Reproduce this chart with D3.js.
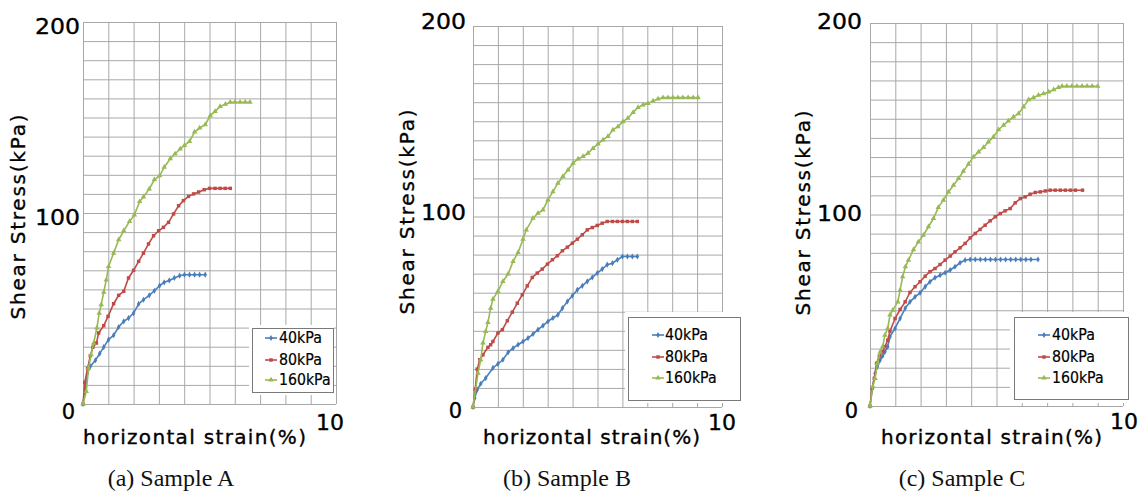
<!DOCTYPE html>
<html lang="en">
<head>
<meta charset="utf-8">
<script src="https://d3js.org/d3.v7.min.js"></script>
<style>
  body { margin: 0; background: #fff; }
  svg { display: block; }
</style>
</head>
<body>
<script>
// values: [horizontal strain %, shear stress kPa]
const seriesNames = ["40kPa", "80kPa", "160kPa"];
const sampleNames = ["(a) Sample A", "(b) Sample B", "(c) Sample C"];
const yTickLabels = [0, 100, 200];
const xTickLabels = [0, 10];

const sampleA40 = [[0,0],[0.09,8.4],[0.18,16.2],[0.29,19.7],[0.49,22.9],[0.66,26.4],[0.82,29.8],[1.01,33.7],[1.21,36],[1.41,40.3],[1.61,43.3],[1.8,45],[2.0,47.6],[2.2,52.4],[2.39,54.6],[2.62,56.9],[2.82,59.3],[3.03,62],[3.21,63.7],[3.41,64.7],[3.61,66],[3.82,67.2],[4.01,67.7],[4.21,67.7],[4.41,67.7],[4.61,67.7],[4.83,67.7]];
const sampleA80 = [[0,0],[0.07,11.3],[0.18,18.5],[0.29,25.3],[0.39,29.7],[0.53,31.9],[0.62,37.2],[0.82,41],[0.99,45.9],[1.21,52.5],[1.41,56.9],[1.61,59],[1.8,66],[2.0,70],[2.2,74.7],[2.39,79],[2.59,83.8],[2.79,88.1],[2.99,90.7],[3.18,92.5],[3.38,95.1],[3.58,99.5],[3.78,103.8],[3.97,106.5],[4.17,108.7],[4.37,110],[4.57,111],[4.79,112.2],[5.0,112.9],[5.22,112.9],[5.42,112.9],[5.62,112.9],[5.82,112.9]];
const sampleA160 = [[0,0],[0.13,6.6],[0.22,18.8],[0.32,25.8],[0.42,31.9],[0.55,39.8],[0.64,47.6],[0.72,52],[0.82,58.5],[0.92,65],[1.01,72],[1.21,79],[1.41,86],[1.61,90.7],[1.84,95.6],[2.03,99],[2.24,106],[2.39,108.4],[2.62,112.6],[2.82,117.4],[3.03,119.5],[3.21,124],[3.45,128.4],[3.64,131],[3.84,133.5],[4.01,135.4],[4.21,137.5],[4.41,142.4],[4.61,144.5],[4.83,146.2],[5.03,151],[5.22,153.2],[5.42,155.8],[5.63,157],[5.82,158],[6.01,158],[6.21,158],[6.41,158],[6.6,158]];

const sampleB40 = [[0,0],[0.07,4.7],[0.17,9.1],[0.31,12.2],[0.51,15.2],[0.8,20.5],[1.0,22.6],[1.2,24.8],[1.41,28.7],[1.61,30.9],[1.81,32.7],[2.01,34.4],[2.21,36.2],[2.41,38.3],[2.61,40.6],[2.81,42.7],[3.01,44.9],[3.21,46.7],[3.41,48.4],[3.59,51.9],[3.79,55.4],[3.99,58.4],[4.19,61.5],[4.39,63.6],[4.59,65.9],[4.79,68],[4.99,70.3],[5.19,72.4],[5.39,74.7],[5.6,75.5],[5.8,77.3],[6.0,79],[6.2,79],[6.4,79],[6.6,79]];
const sampleB80 = [[0,0],[0.09,9.4],[0.17,19.9],[0.27,24.8],[0.4,27.4],[0.6,31.3],[0.71,32.7],[0.8,34.4],[1.0,38.8],[1.18,40.6],[1.38,45.3],[1.58,49.8],[1.78,54.5],[1.98,58.9],[2.18,63.6],[2.38,68],[2.58,70.3],[2.78,72.4],[2.99,75],[3.19,77.3],[3.39,79.4],[3.59,82],[3.79,83.9],[3.99,86],[4.19,88.1],[4.39,90.4],[4.59,93],[4.79,94.2],[4.99,95.3],[5.19,96.5],[5.39,97.4],[5.6,97.4],[5.8,97.4],[6.0,97.4],[6.2,97.4],[6.4,97.4],[6.6,97.4]];
const sampleB160 = [[0,0],[0.2,17.8],[0.31,24.8],[0.4,33.6],[0.51,39.7],[0.6,44.4],[0.71,51.9],[0.8,56.6],[1.0,60.7],[1.2,65.9],[1.41,69.8],[1.61,76.4],[1.81,81.1],[2.01,88.1],[2.14,93],[2.41,99.1],[2.61,101.7],[2.81,103.5],[3.01,108.7],[3.21,113.1],[3.41,117.5],[3.61,121],[3.82,124.5],[4.02,128],[4.22,130.2],[4.42,131.5],[4.62,133.2],[4.82,135.8],[5.02,138.1],[5.22,140.2],[5.42,142],[5.62,145.5],[5.82,147.2],[6.02,149.8],[6.22,151.6],[6.43,154.7],[6.63,157.2],[6.83,158.6],[7.03,159.4],[7.23,160.7],[7.43,161.7],[7.63,162.4],[7.83,162.4],[8.03,162.4],[8.23,162.4],[8.43,162.4],[8.64,162.4],[8.84,162.4],[9.04,162.4]];

const sampleC40 = [[0,0],[0.09,9.2],[0.2,17],[0.29,20.5],[0.4,24],[0.5,26.1],[0.59,28.3],[0.7,31],[0.79,36.2],[0.99,40.5],[1.19,45.7],[1.39,51],[1.58,54.4],[1.78,57],[1.98,59.1],[2.18,62.3],[2.37,64.9],[2.57,67],[2.77,68.3],[2.97,69.6],[3.17,71],[3.36,72.7],[3.56,74.8],[3.76,76.2],[3.96,76.5],[4.16,76.5],[4.36,76.5],[4.56,76.5],[4.76,76.5],[4.96,76.5],[5.16,76.5],[5.36,76.5],[5.56,76.5],[5.76,76.5],[5.96,76.5],[6.16,76.5],[6.36,76.5],[6.64,76.5]];
const sampleC80 = [[0,0],[0.08,9.2],[0.17,14.4],[0.26,22.3],[0.37,26.1],[0.5,28.3],[0.59,31],[0.7,34.4],[0.79,39.1],[0.99,45.7],[1.19,50.4],[1.39,54.4],[1.58,59.3],[1.78,62.3],[1.98,64.9],[2.18,67.8],[2.37,70.1],[2.57,71.8],[2.77,73.9],[2.97,76.2],[3.17,78.3],[3.36,80.5],[3.56,82.6],[3.76,84.9],[3.96,87.8],[4.16,90.1],[4.35,92.2],[4.55,94.4],[4.75,96.7],[4.95,98.8],[5.15,100.5],[5.34,101.9],[5.54,103.1],[5.74,106.1],[5.94,108.3],[6.13,109.2],[6.33,110.6],[6.53,111.5],[6.73,111.8],[6.93,112.3],[7.12,112.7],[7.32,112.7],[7.52,112.7],[7.72,112.7],[7.92,112.7],[8.12,112.7],[8.4,112.7]];
const sampleC160 = [[0,0],[0.11,10.1],[0.2,14.4],[0.29,22.3],[0.4,28.3],[0.5,31],[0.59,37],[0.7,40.5],[0.79,47.5],[0.9,50.1],[1.1,54.4],[1.19,60.5],[1.29,67.5],[1.4,72.7],[1.52,76.2],[1.72,81.7],[1.91,85.7],[2.11,89.2],[2.31,93.6],[2.51,97.9],[2.7,103.7],[2.9,107.5],[3.1,111.8],[3.3,115.3],[3.5,118.8],[3.69,122.6],[3.89,126.3],[4.09,130.1],[4.29,132.7],[4.49,135],[4.68,137.9],[4.88,140.5],[5.08,144.3],[5.28,146.6],[5.47,148.9],[5.67,151],[5.87,152.7],[6.07,156.2],[6.27,160],[6.46,161],[6.66,162.3],[6.86,163.1],[7.06,164],[7.26,165.2],[7.45,166.3],[7.59,167],[7.78,167],[7.98,167],[8.18,167],[8.38,167],[8.58,167],[8.78,167],[9.0,167]];

const colors = ["#4a7ebb", "#be4b48", "#98b954"];
const symbols = [d3.symbolDiamond, d3.symbolSquare, d3.symbolTriangle];
const symbolSizes = [11, 12, 13];

// layout of the three panels (pixels)
const panels = [
  { data: [sampleA40, sampleA80, sampleA160], left: 83, top: 22, w: 253, h: 382,
    yLabX: 80, yLabDy: 5, zeroX: 75, zeroDy: 8, tenX: 330, tenY: 423,
    yTitleX: 18, yTitleY: 217, xTitleX: 83, xTitleLen: 223, capX: 171,
    leg: { x: 252, y: 328, w: 81, h: 64, cover: [249, 325, 85, 70], rows: [338, 360, 380], lx: 265, tx: 279 } },
  { data: [sampleB40, sampleB80, sampleB160], left: 473, top: 26, w: 249, h: 381,
    yLabX: 466, yLabDy: -4, zeroX: 462, zeroDy: 4, tenX: 722, tenY: 423,
    yTitleX: 407, yTitleY: 212, xTitleX: 483, xTitleLen: 217, capX: 567,
    leg: { x: 628, y: 317, w: 112, h: 83, cover: [625, 312, 118, 91], rows: [335, 357, 378], lx: 652, tx: 665 } },
  { data: [sampleC40, sampleC80, sampleC160], left: 870, top: 23, w: 253, h: 383,
    yLabX: 862, yLabDy: -1, zeroX: 858, zeroDy: 5, tenX: 1124, tenY: 422,
    yTitleX: 803, yTitleY: 213, xTitleX: 881, xTitleLen: 221, capX: 962,
    leg: { x: 1014, y: 317, w: 114, h: 82, cover: [1010, 312, 134, 91], rows: [335, 357, 378], lx: 1038, tx: 1052 } }
];

const svg = d3.select("body").append("svg")
  .attr("width", 1144).attr("height", 493);

const sansFont = "'DejaVu Sans', Verdana, sans-serif";

// heavier looking label text like the scanned figure
function label(sel, size) {
  return sel.attr("font-family", sansFont).attr("font-size", size)
    .attr("fill", "#000").attr("stroke", "#000").attr("stroke-width", 0.35)
    .attr("dominant-baseline", "central");
}

panels.forEach(function(p, i) {
  const x = d3.scaleLinear().domain([0, 10]).range([p.left, p.left + p.w]);
  const y = d3.scaleLinear().domain([0, 200]).range([p.top + p.h, p.top]);
  const g = svg.append("g");

  // grid: 10 kPa rows, 1 % columns
  g.append("g").attr("transform", `translate(${p.left},0)`)
    .call(d3.axisLeft(y).tickValues(d3.range(0, 201, 10)).tickSize(-p.w).tickFormat(""))
    .call(s => s.select(".domain").remove())
    .selectAll("line").attr("stroke", "#a8a8a8").attr("stroke-width", 1);
  g.append("g").attr("transform", `translate(0,${p.top + p.h})`)
    .call(d3.axisBottom(x).tickValues(d3.range(0, 11, 1)).tickSize(-p.h).tickFormat(""))
    .call(s => s.select(".domain").remove())
    .selectAll("line").attr("stroke", "#a8a8a8").attr("stroke-width", 1);

  // white area behind legend
  const c = p.leg.cover;
  g.append("rect").attr("x", c[0]).attr("y", c[1]).attr("width", c[2]).attr("height", c[3])
    .attr("fill", "#fff");

  // series
  const line = d3.line().x(d => x(d[0])).y(d => y(d[1]));
  p.data.forEach(function(s, k) {
    g.append("path").datum(s)
      .attr("fill", "none").attr("stroke", colors[k]).attr("stroke-width", 1.6)
      .attr("d", line);
    g.append("g").selectAll("path").data(s).join("path")
      .attr("transform", d => `translate(${x(d[0])},${y(d[1])})`)
      .attr("d", d3.symbol(symbols[k], symbolSizes[k]))
      .attr("fill", colors[k]);
  });

  // legend
  const L = p.leg;
  g.append("rect").attr("x", L.x + 0.5).attr("y", L.y + 0.5).attr("width", L.w).attr("height", L.h)
    .attr("fill", "#fff").attr("stroke", "#7a7a7a").attr("stroke-width", 1);
  seriesNames.forEach(function(name, k) {
    const ry = L.rows[k];
    g.append("line").attr("x1", L.lx).attr("x2", L.lx + 12).attr("y1", ry).attr("y2", ry)
      .attr("stroke", colors[k]).attr("stroke-width", 1.6);
    g.append("path").attr("transform", `translate(${L.lx + 6},${ry})`)
      .attr("d", d3.symbol(symbols[k], symbolSizes[k])).attr("fill", colors[k]);
    label(g.append("text"), 15).attr("x", L.tx).attr("y", ry)
      .attr("stroke-width", 0.2)
      .attr("textLength", name.length * 8.6).attr("lengthAdjust", "spacingAndGlyphs")
      .text(name);
  });

  // y tick labels (100, 200), 0 and 10 at the corners
  yTickLabels.filter(v => v > 0).forEach(function(v) {
    label(g.append("text"), 21).attr("x", p.yLabX).attr("y", y(v) + p.yLabDy)
      .attr("text-anchor", "end")
      .attr("textLength", 45).attr("lengthAdjust", "spacingAndGlyphs")
      .text(v);
  });
  label(g.append("text"), 21).attr("x", p.zeroX).attr("y", y(yTickLabels[0]) + p.zeroDy)
    .attr("text-anchor", "end")
    .text(xTickLabels[0]);
  label(g.append("text"), 21).attr("x", p.tenX).attr("y", p.tenY)
    .attr("text-anchor", "middle")
    .attr("textLength", 28).attr("lengthAdjust", "spacingAndGlyphs")
    .text(xTickLabels[1]);

  // axis titles
  label(g.append("text"), 20)
    .attr("transform", `translate(${p.yTitleX},${p.yTitleY}) rotate(-90)`)
    .attr("text-anchor", "middle")
    .attr("textLength", 205).attr("lengthAdjust", "spacing")
    .text("Shear Stress(kPa)");
  label(g.append("text"), 20).attr("x", p.xTitleX).attr("y", 437)
    .attr("textLength", p.xTitleLen).attr("lengthAdjust", "spacing")
    .text("horizontal strain(%)");

  // caption
  g.append("text").attr("x", p.capX).attr("y", 478)
    .attr("text-anchor", "middle").attr("dominant-baseline", "central")
    .attr("font-family", "'Liberation Serif', 'Times New Roman', serif").attr("font-size", 24)
    .attr("fill", "#111")
    .text(sampleNames[i]);
});
</script>
</body>
</html>
